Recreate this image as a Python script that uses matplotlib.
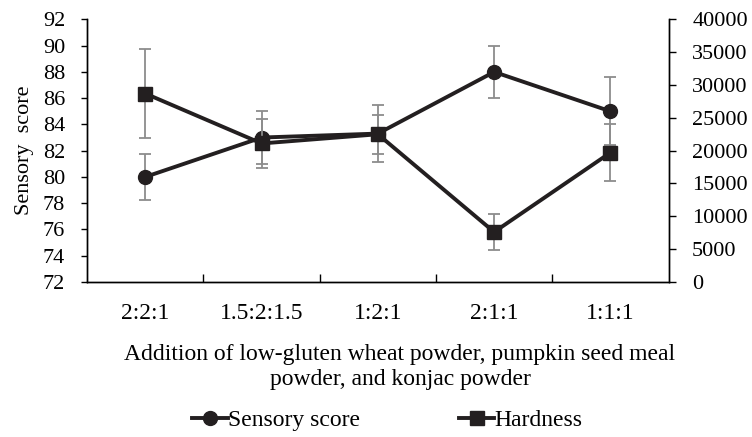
import numpy as np
import matplotlib
matplotlib.use("Agg")
import matplotlib.pyplot as plt

# data
ratios = ["2:2:1", "1.5:2:1.5", "1:2:1", "2:1:1", "1:1:1"]
sensory = [80.0, 83.0, 83.3, 88.0, 85.0]
sensory_err = [1.75, 2.0, 2.2, 2.0, 2.6]
hardness = [28700, 21100, 22500, 7600, 19700]
hardness_err = [6800, 3800, 3000, 2700, 4300]

plt.rcParams["font.family"] = ["Liberation Serif", "DejaVu Serif"]
plt.rcParams["font.size"] = 16

fig = plt.figure(figsize=(7.52, 4.37), dpi=100)
ax1 = fig.add_axes([0.116, 0.355, 0.773, 0.6005])
ax2 = ax1.twinx()

x = np.arange(len(ratios))
line_kw = dict(color="#231f20", linewidth=2.8, markersize=10)
err_kw = dict(ecolor="#8c8c8c", elinewidth=1.3, capsize=4, capthick=1.3)

ax1.errorbar(x, sensory, yerr=sensory_err, marker="o", **line_kw, **err_kw, zorder=3)
ax2.errorbar(x, hardness, yerr=hardness_err, marker="s", **line_kw, **err_kw, zorder=3)

ax1.set_xlim(-0.5, len(ratios) - 0.5)
ax1.set_ylim(72, 92)
ax1.set_yticks(np.arange(72, 93, 2))
ax2.set_ylim(0, 40000)
ax2.set_yticks(np.arange(0, 40001, 5000))

ax1.set_xticks(x)
ax1.set_xticklabels(ratios, fontsize=17)
ax1.tick_params(axis="x", length=0, pad=15)
ax1.set_xticks(np.arange(0.5, len(ratios) - 0.5, 1), minor=True)
ax1.tick_params(axis="x", which="minor", direction="in", length=6, width=1)
ax1.tick_params(axis="y", direction="out", length=4, width=1, pad=12)
ax2.tick_params(axis="y", direction="out", length=5, width=1, pad=12)

for ax in (ax1, ax2):
    ax.spines["top"].set_visible(False)
    for s in ("left", "right", "bottom"):
        ax.spines[s].set_linewidth(1.0)

ax1.set_ylabel("Sensory  score", labelpad=6)
ax1.set_xlabel("Addition of low-gluten wheat powder, pumpkin seed meal\npowder, and konjac powder",
               fontsize=17, linespacing=1.25)
ax1.xaxis.set_label_coords(0.538, -0.235)

h1 = plt.Line2D([], [], color="#231f20", linewidth=2.8, marker="o", markersize=10)
h2 = plt.Line2D([], [], color="#231f20", linewidth=2.8, marker="s", markersize=10)
fig.legend([h1, h2], ["Sensory score", "Hardness"], loc="lower center",
           bbox_to_anchor=(0.515, -0.035), ncol=2, frameon=False, fontsize=17,
           handlelength=1.5, handletextpad=0.0, columnspacing=4.2)

plt.savefig("out.png", dpi=100)
